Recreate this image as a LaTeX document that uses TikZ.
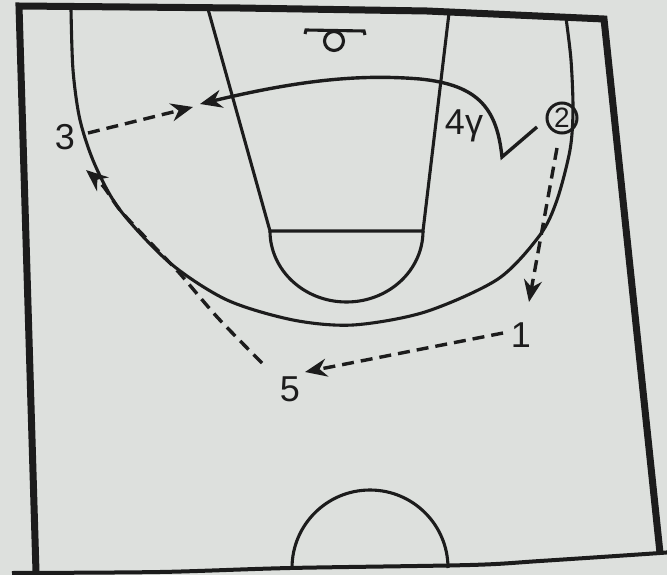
\documentclass[tikz,border=0pt]{standalone}
\usepackage{fontspec}
\setmainfont{Liberation Sans}
\usetikzlibrary{arrows.meta}
\definecolor{paper}{RGB}{221,224,221}
\definecolor{ink}{RGB}{28,28,28}
\begin{document}
\begin{tikzpicture}[x=1pt,y=-1pt,
  court/.style={draw=ink,line width=3.1pt},
  border/.style={draw=ink,line width=7pt,line join=miter},
  tipstyle/.style={-{Stealth[length=22pt,width=18pt]}},
  pass/.style={draw=ink,line width=3.4pt,dash pattern=on 12pt off 7pt,tipstyle},
  cut/.style={draw=ink,line width=3.4pt,tipstyle},
  lbl/.style={text=ink,font=\fontsize{36}{36}\selectfont,inner sep=0pt,anchor=base}]
\useasboundingbox (0,0) rectangle (667,575);
\fill[paper] (0,0) rectangle (667,575);
% court outline
\draw[border] (36,572) -- (19,6) -- (240,8) -- (427,11) -- (604,19) -- (660,553);
\draw[draw=ink,line width=4pt] plot[smooth] coordinates {(12,573) (160,572) (290,568) (470,565) (540,561) (660,553) (667,552)};
% center circle
\draw[court] (292,568) arc[start angle=180,end angle=360,radius=78];
% three point line
\draw[court] plot[smooth] coordinates {(71,9) (73,70) (80,120) (95,165) (120,210) (170,263) (227,300) (293,320) (353,325) (425,312) (498,279) (540,235) (557,200) (570,150) (573,110) (571,60) (566,18)};
% lane
\draw[court] (208,9) -- (270,231) -- (423,231) -- (449,13);
\draw[court] (270,231) arc[start angle=180,end angle=0,x radius=76.5,y radius=71];
% basket
\draw[court] (305,34) -- (306,30) -- (364,31) -- (365,35);
\draw[court] (334,41) circle[radius=9.5];
% players
\node[lbl] (p3) at (65,150) {3};
\node[lbl] (p5) at (290,401) {5};
\node[lbl] (p1) at (521,347) {1};
\node[lbl] (p4) at (464,135) {4γ};
\node[draw=ink,line width=3pt,circle,minimum size=30pt,inner sep=0pt,
      text=ink,font=\fontsize{28}{28}\selectfont] (p2) at (562,118) {2};
% connector ends
\coordinate (s3) at (88,133);
\coordinate (e3) at (193,107);
\coordinate (cs) at (537,127);
\coordinate (cv) at (502,157);
\coordinate (ce) at (200,104);
\coordinate (s2) at (557,148);
\coordinate (e2) at (529,302);
\coordinate (s1) at (503,333);
\coordinate (e1) at (305,372);
\coordinate (s5) at (262,363);
\coordinate (k5) at (182,276);
\coordinate (e5) at (86,170);
% passes and cut
\draw[pass] (s3) -- (e3);
\draw[cut] (cs) -- (cv) .. controls (497,110) and (480,85) .. (420,79)
  .. controls (360,74) and (300,80) .. (ce);
\draw[pass] (s2) -- (e2);
\draw[pass] (s1) -- (e1);
\draw[pass] plot[smooth,tension=0.5] coordinates {(s5) (218,318) (k5) (170,263) (145,237) (120,210) (103,186) (e5)};
\end{tikzpicture}
\end{document}
